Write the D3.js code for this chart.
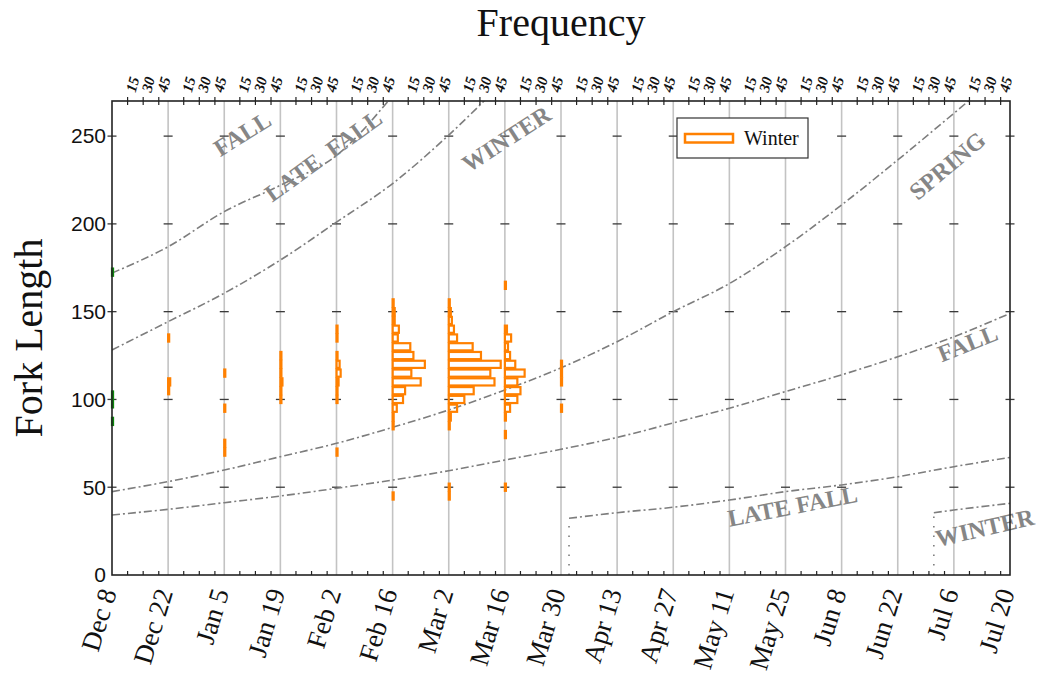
<!DOCTYPE html>
<html>
<head>
<meta charset="utf-8">
<script src="https://cdn.jsdelivr.net/npm/d3@7"></script>
<style>
  body { margin: 0; background: #fff; }
  svg { display: block; }
</style>
</head>
<body>
<svg id="chart" width="1042" height="675"></svg>
<script>
// ---- sampling dates (two-week panels) and their axis labels ----
const sampleDates = ["2008-12-08","2008-12-22","2009-01-05","2009-01-19","2009-02-02","2009-02-16",
  "2009-03-02","2009-03-16","2009-03-30","2009-04-13","2009-04-27","2009-05-11","2009-05-25",
  "2009-06-08","2009-06-22","2009-07-06","2009-07-20"];
const dateLabels = ["Dec 8","Dec 22","Jan 5","Jan 19","Feb 2","Feb 16","Mar 2","Mar 16","Mar 30",
  "Apr 13","Apr 27","May 11","May 25","Jun 8","Jun 22","Jul 6","Jul 20"];
const forkTicks = [0, 50, 100, 150, 200, 250];
const freqTicks = [15, 30, 45];

// ---- catch per 5 mm fork-length bin: [bin centre (mm), count] ----
const otherDec8   = [[172.5,1],[102.5,1],[97.5,1],[87.5,1]];
const winterDec22 = [[135,1],[110,2],[105,1]];
const winterJan5  = [[115,1],[95,1],[75,1],[70,1]];
const winterJan19 = [[125,1],[120,1],[115,1],[110,2],[105,1],[100,1]];
const winterFeb2  = [[140,1],[135,1],[125,1],[120,3],[115,4],[110,2],[105,1],[100,1],[70,1]];
const winterFeb16 = [[155,1],[150,2],[145,2],[140,6],[135,5],[130,17],[125,20],[120,31],[115,18],
  [110,27],[105,12],[100,10],[95,4],[90,1],[85,1],[45,1]];
const winterMar2  = [[155,1],[150,2],[145,3],[140,5],[135,8],[130,23],[125,31],[120,50],[115,40],
  [110,44],[105,24],[100,15],[95,8],[90,2],[85,1],[50,1],[45,1]];
const winterMar16 = [[165,1],[140,2],[135,6],[130,3],[125,5],[120,10],[115,19],[110,12],[105,15],
  [100,12],[95,5],[90,1],[80,1],[50,1]];
const winterMar30 = [[120,1],[115,1],[110,1],[95,1]];

const winterSamples = [
  ["2008-12-22", winterDec22], ["2009-01-05", winterJan5], ["2009-01-19", winterJan19],
  ["2009-02-02", winterFeb2], ["2009-02-16", winterFeb16], ["2009-03-02", winterMar2],
  ["2009-03-16", winterMar16], ["2009-03-30", winterMar30]
];
const otherSamples = [["2008-12-08", otherDec8]];

// ---- length-at-date run boundaries: [date, fork length (mm)] ----
const fallLateFallBoundary = [["2008-12-08",172],["2008-12-22",187],["2009-01-05",207],
  ["2009-01-19",222],["2009-02-02",239],["2009-02-16",273]];
const lateFallWinterBoundary = [["2008-12-08",128.2],["2008-12-22",144.3],["2009-01-05",160.5],
  ["2009-01-19",179.4],["2009-02-02",201],["2009-02-16",223],["2009-03-02",250.6],["2009-03-16",282]];
const winterSpringBoundary = [["2008-12-08",47.5],["2008-12-22",53.2],["2009-01-05",59.8],
  ["2009-01-19",67.4],["2009-02-02",75],["2009-02-16",84.1],["2009-03-02",94],["2009-03-16",105.4],
  ["2009-03-30",118],["2009-04-13",132.9],["2009-04-27",150],["2009-05-11",166],["2009-05-25",187],
  ["2009-06-08",210.8],["2009-06-22",236.4],["2009-07-06",263],["2009-07-20",290]];
const springFallBoundary = [["2008-12-08",34.2],["2008-12-22",37.4],["2009-01-05",41.2],
  ["2009-01-19",45],["2009-02-02",49.4],["2009-02-16",54.1],["2009-03-02",59.4],["2009-03-16",65.5],
  ["2009-03-30",71.6],["2009-04-13",78.4],["2009-04-27",86.6],["2009-05-11",95],["2009-05-25",104.5],
  ["2009-06-08",114],["2009-06-22",124.3],["2009-07-06",135.7],["2009-07-20",149]];
const fallLateFallNextBoundary = [["2009-04-01",0],["2009-04-01",32.3],["2009-04-13",35.5],
  ["2009-04-27",38.6],["2009-05-11",42.7],["2009-05-25",47.5],["2009-06-08",51.3],
  ["2009-06-22",56],["2009-07-06",61.7],["2009-07-20",67]];
const lateFallWinterNextBoundary = [["2009-07-01",0],["2009-07-01",35.5],["2009-07-06",37],
  ["2009-07-20",40.8]];

// ---- layout ----
const plot = { left: 112, right: 1010, top: 101, bottom: 575 };
const parse = d3.utcParse("%Y-%m-%d");
const dates = sampleDates.map(parse);

const x = d3.scaleUtc().domain([dates[0], dates[dates.length - 1]]).range([plot.left, plot.right]);
const y = d3.scaleLinear().domain([0, 270]).range([plot.bottom, plot.top]);
const panelW = x(dates[1]) - x(dates[0]);
const freq = d3.scaleLinear().domain([0, 54]).range([0, panelW]);

const svg = d3.select("#chart");
const serif = "'Liberation Serif', 'Times New Roman', serif";
const sans = "'Liberation Sans', Arial, sans-serif";
const runGrey = "#868686";

svg.append("defs").append("clipPath").attr("id", "plotClip")
  .append("rect").attr("x", plot.left).attr("y", plot.top)
  .attr("width", plot.right - plot.left).attr("height", plot.bottom - plot.top);

// vertical gridlines at each sampling date
svg.append("g").selectAll("line").data(dates.slice(1, -1)).join("line")
  .attr("x1", d => x(d)).attr("x2", d => x(d))
  .attr("y1", plot.top).attr("y2", plot.bottom)
  .attr("stroke", "#c3c3c3").attr("stroke-width", 1.6);

// short cross ticks where each gridline meets a fork-length tick
const crossTicks = [];
dates.forEach(d => forkTicks.filter(v => v > 0).forEach(v => crossTicks.push([d, v])));
svg.append("g").selectAll("line").data(crossTicks).join("line")
  .attr("x1", d => x(d[0]) - 4.5).attr("x2", d => x(d[0]) + 4.5)
  .attr("y1", d => y(d[1])).attr("y2", d => y(d[1]))
  .attr("stroke", "#3a3a3a").attr("stroke-width", 1.3);

// run boundary curves
const line = d3.line().x(d => x(parse(d[0]))).y(d => y(d[1])).curve(d3.curveMonotoneX);
const boundaryG = svg.append("g").attr("clip-path", "url(#plotClip)")
  .attr("fill", "none").attr("stroke", "#7d7d7d").attr("stroke-width", 1.6);
[fallLateFallBoundary, lateFallWinterBoundary, winterSpringBoundary, springFallBoundary]
  .forEach(b => boundaryG.append("path").attr("d", line(b)).attr("stroke-dasharray", "8,3,2,3"));
[fallLateFallNextBoundary, lateFallWinterNextBoundary].forEach(b => {
  boundaryG.append("path").attr("d", d3.line().x(d => x(parse(d[0]))).y(d => y(d[1]))(b.slice(0, 2)))
    .attr("stroke-dasharray", "1.5,8");
  boundaryG.append("path").attr("d", line(b.slice(1))).attr("stroke-dasharray", "8,3,2,3");
});

// histograms drawn sideways from each sampling date
function drawHistograms(samples, colour) {
  const rows = [];
  samples.forEach(([date, bins]) => bins.forEach(([len, n]) => rows.push({ date: parse(date), len, n })));
  svg.append("g").selectAll("rect").data(rows).join("rect")
    .attr("x", d => x(d.date))
    .attr("y", d => y(d.len + 2.5) + 0.8)
    .attr("width", d => freq(d.n))
    .attr("height", d => y(d.len - 2.5) - y(d.len + 2.5) - 1.6)
    .attr("fill", "none").attr("stroke", colour).attr("stroke-width", 2.2);
}
drawHistograms(otherSamples, "#0a8a0a");
drawHistograms(winterSamples, "#ff8000");

// run labels
const runLabels = [
  { text: "FALL",                 date: "2009-01-04", len: 238,  angle: -32 },
  { text: "LATE\u00a0\u00a0FALL", date: "2009-01-17", len: 212,  angle: -36 },
  { text: "WINTER",               date: "2009-03-07", len: 229,  angle: -33 },
  { text: "SPRING",               date: "2009-06-27", len: 213,  angle: -40 },
  { text: "FALL",                 date: "2009-07-03", len: 121,  angle: -22 },
  { text: "LATE FALL",            date: "2009-05-11", len: 27.5, angle: -11 },
  { text: "WINTER",               date: "2009-07-02", len: 16,   angle: -13 }
];
svg.append("g").selectAll("text").data(runLabels).join("text")
  .attr("transform", d => `translate(${x(parse(d.date))},${y(d.len)}) rotate(${d.angle})`)
  .attr("font-family", serif).attr("font-weight", "bold").attr("font-size", 24)
  .attr("fill", runGrey)
  .text(d => d.text);

// plot frame
svg.append("rect").attr("x", plot.left).attr("y", plot.top)
  .attr("width", plot.right - plot.left).attr("height", plot.bottom - plot.top)
  .attr("fill", "none").attr("stroke", "#222").attr("stroke-width", 1.6);

// frequency ticks along top (crossing) and bottom (inward)
const fTickPos = [];
dates.slice(0, -1).forEach(d => freqTicks.forEach(t => fTickPos.push({ d, t, px: x(d) + freq(t) })));
svg.append("g").selectAll("line").data(fTickPos).join("line")
  .attr("x1", d => d.px).attr("x2", d => d.px)
  .attr("y1", plot.top - 4).attr("y2", plot.top + 4)
  .attr("stroke", "#222").attr("stroke-width", 1.2);
svg.append("g").selectAll("line").data(fTickPos).join("line")
  .attr("x1", d => d.px).attr("x2", d => d.px)
  .attr("y1", plot.bottom - 4).attr("y2", plot.bottom)
  .attr("stroke", "#222").attr("stroke-width", 1.2);
svg.append("g").selectAll("text").data(fTickPos).join("text")
  .attr("transform", d => `translate(${d.px + 8},${plot.top - 8}) rotate(-75)`)
  .attr("font-family", serif).attr("font-weight", "bold").attr("font-style", "italic")
  .attr("font-size", 15).attr("fill", "#111")
  .text(d => d.t);

// fork-length axis labels
svg.append("g").selectAll("text").data(forkTicks).join("text")
  .attr("x", plot.left - 6).attr("y", d => y(d)).attr("dy", "0.35em")
  .attr("text-anchor", "end").attr("font-family", sans).attr("font-size", 21).attr("fill", "#111")
  .text(d => d);

// date labels
svg.append("g").selectAll("text").data(dates).join("text")
  .attr("transform", d => `translate(${x(d) + 5},${plot.bottom + 17}) rotate(-73)`)
  .attr("text-anchor", "end").attr("font-family", serif).attr("font-size", 27).attr("fill", "#111")
  .text((d, i) => dateLabels[i]);

// titles
svg.append("text").attr("x", (plot.left + plot.right) / 2).attr("y", 36)
  .attr("text-anchor", "middle").attr("font-family", serif).attr("font-size", 40).attr("fill", "#111")
  .text("Frequency");
svg.append("text").attr("transform", `translate(42,${(plot.top + plot.bottom) / 2}) rotate(-90)`)
  .attr("text-anchor", "middle").attr("font-family", serif).attr("font-size", 40).attr("fill", "#111")
  .text("Fork Length");

// legend
const lg = svg.append("g").attr("transform", "translate(677,118)");
lg.append("rect").attr("width", 131).attr("height", 40).attr("fill", "#fff")
  .attr("stroke", "#333").attr("stroke-width", 1.2);
lg.append("rect").attr("x", 8).attr("y", 16).attr("width", 48).attr("height", 8.5)
  .attr("fill", "#fff").attr("stroke", "#ff8000").attr("stroke-width", 2.5);
lg.append("text").attr("x", 67).attr("y", 27).attr("font-family", serif).attr("font-size", 20)
  .attr("fill", "#111").text("Winter");
</script>
</body>
</html>
